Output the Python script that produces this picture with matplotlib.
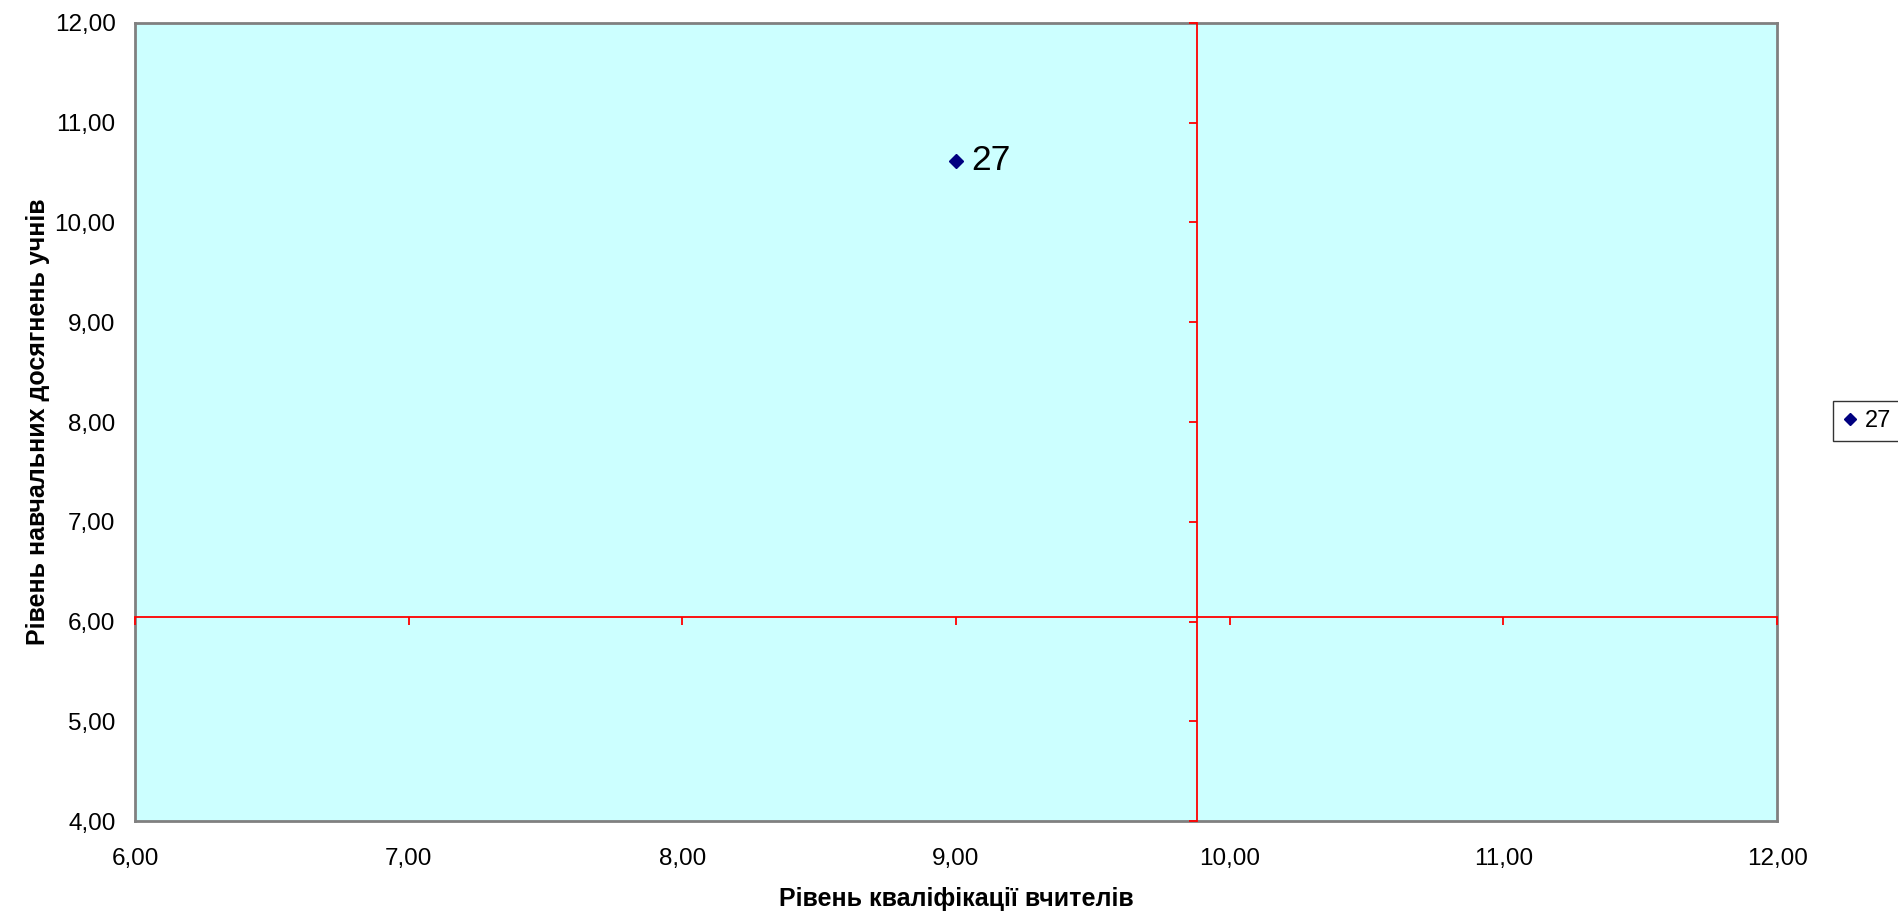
import matplotlib.pyplot as plt
from matplotlib.ticker import FuncFormatter, MultipleLocator

# data
teacher_level = [9.0]
student_level = [10.62]
point_names = ["27"]
cross_x = 9.88
cross_y = 6.045
x_lim = (6, 12)
y_lim = (4, 12)

plt.rcParams['font.family'] = ['Liberation Sans', 'DejaVu Sans']

fig = plt.figure(figsize=(18.99, 9.16), dpi=100)
pos = [0.0711, 0.1037, 0.8647, 0.8712]
ax = fig.add_axes(pos)
ax.set_facecolor('#CCFFFF')
for s in ax.spines.values():
    s.set_color('#808080')
    s.set_linewidth(2)

comma = FuncFormatter(lambda v, p: f"{v:.2f}".replace('.', ','))
ax.set_xlim(*x_lim)
ax.set_ylim(*y_lim)
ax.xaxis.set_major_locator(MultipleLocator(1))
ax.yaxis.set_major_locator(MultipleLocator(1))
ax.xaxis.set_major_formatter(comma)
ax.yaxis.set_major_formatter(comma)
ax.tick_params(axis='both', length=0, labelsize=17.5)
ax.tick_params(axis='x', pad=19.5)
ax.tick_params(axis='y', pad=14)

ax.set_xlabel("Рівень кваліфікації вчителів", fontsize=18, fontweight='bold')
ax.set_ylabel("Рівень навчальних досягнень учнів", fontsize=18, fontweight='bold')
ax.xaxis.set_label_coords(0.5, -0.0827)
ax.yaxis.set_label_coords(-0.052, 0.5)

# red axes crossing inside the plot
ax2 = fig.add_axes(pos, sharex=ax, sharey=ax)
ax2.patch.set_visible(False)
ax2.spines['top'].set_visible(False)
ax2.spines['right'].set_visible(False)
ax2.spines['left'].set_position(('data', cross_x))
ax2.spines['bottom'].set_position(('data', cross_y))
for k in ('left', 'bottom'):
    ax2.spines[k].set_color('#FF0000')
    ax2.spines[k].set_linewidth(1.3)
ax2.tick_params(axis='both', direction='out', length=5.8, width=1.3, color='#FF0000',
                labelleft=False, labelbottom=False)

ax2.plot(teacher_level, student_level, linestyle='none', marker='D', ms=7.5,
         color='#000080', label=point_names[0], zorder=5)
for x, y, n in zip(teacher_level, student_level, point_names):
    ax2.annotate(n, (x, y), xytext=(11, 0), textcoords='offset points',
                 fontsize=25.5, va='center', ha='left')

leg = ax2.legend(loc='center left', bbox_to_anchor=(1833 / 1899, 1 - 421 / 916),
                 bbox_transform=fig.transFigure, fontsize=17, frameon=True,
                 fancybox=False, edgecolor='black', handlelength=0.6,
                 handletextpad=0.35, borderpad=0.4, borderaxespad=0,
                 markerscale=0.85)
leg.get_frame().set_linewidth(1)

fig.savefig('out.png', dpi=100)
